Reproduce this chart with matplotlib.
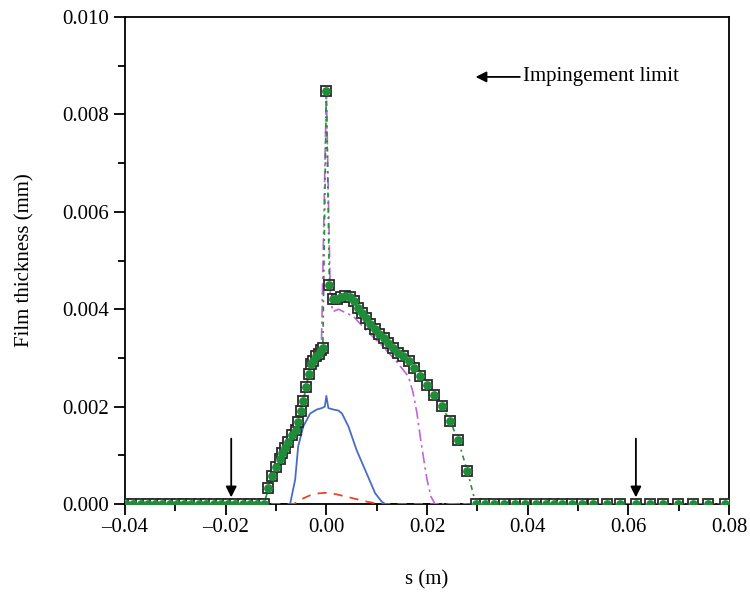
import matplotlib
matplotlib.use("Agg")
import matplotlib.pyplot as plt
from matplotlib.ticker import MultipleLocator, FuncFormatter

plt.rcParams['font.family'] = ['Liberation Serif', 'DejaVu Serif']

# film thickness along s, symbols (square + green circle) series
s_sym = [-0.0398, -0.0384, -0.0369, -0.0355, -0.0340, -0.0326, -0.0311, -0.0297,
         -0.0282, -0.0268, -0.0253, -0.0239, -0.0224, -0.0210, -0.0195, -0.0181,
         -0.0166, -0.0152, -0.0137, -0.0124,
         -0.0115, -0.0107, -0.0100, -0.0093, -0.0088, -0.0082, -0.0076, -0.0069,
         -0.0061, -0.0056, -0.0051, -0.0046, -0.0040, -0.0035, -0.0031, -0.0026,
         -0.0021, -0.0015, -0.0010, -0.0007, 0.0000, 0.0006,
         0.0014, 0.0022, 0.0030, 0.0038, 0.0046, 0.0054, 0.0062, 0.0070, 0.0078,
         0.0087, 0.0096, 0.0105, 0.0114, 0.0123, 0.0133, 0.0143, 0.0153, 0.0164,
         0.0175, 0.0187, 0.0200, 0.0214, 0.0229, 0.0246, 0.0262, 0.0280,
         0.0297, 0.0315, 0.0334, 0.0353, 0.0374, 0.0395, 0.0416, 0.0436, 0.0452,
         0.0468, 0.0488, 0.0508, 0.0530, 0.0558, 0.0584, 0.0615, 0.0643, 0.0669,
         0.0699, 0.0729, 0.0758, 0.0792]
h_sym = [0.0] * 20 + [
         0.00032, 0.00058, 0.00077, 0.00092, 0.00104, 0.00116, 0.00127, 0.00142,
         0.00153, 0.00169, 0.00190, 0.00212, 0.00240, 0.00268, 0.00287, 0.00294,
         0.00304, 0.00308, 0.00316, 0.00320, 0.00848, 0.00450,
         0.00420, 0.00422, 0.00426, 0.00428, 0.00425, 0.00417, 0.00403, 0.00392, 0.00381,
         0.00370, 0.00360, 0.00350, 0.00340, 0.00330, 0.00320, 0.00311, 0.00303, 0.00293,
         0.00280, 0.00263, 0.00244, 0.00224, 0.00201, 0.00170, 0.00131, 0.00068] + [0.0] * 22

# dash-dot magenta series
s_mag = [-0.040, -0.0125, -0.0115, -0.0100, -0.0088, -0.0076, -0.0061, -0.0051,
         -0.0040, -0.0031, -0.0021, -0.0010, 0.0000, 0.0008, 0.0013, 0.0024, 0.0040,
         0.0054, 0.0080, 0.0113, 0.0140, 0.0163, 0.0172, 0.0180, 0.0187, 0.0193,
         0.0200, 0.0208, 0.0216, 0.080]
h_mag = [0.0, 0.0, 0.00030, 0.00077, 0.00104, 0.00127, 0.00153, 0.00190,
         0.00240, 0.00287, 0.00304, 0.00316, 0.00850, 0.00420, 0.00395, 0.00400, 0.00392,
         0.00385, 0.00356, 0.00323, 0.00292, 0.00262, 0.00230, 0.00187, 0.00135, 0.00095,
         0.00050, 0.00015, 0.0, 0.0]

# solid blue series
s_blue = [-0.040, -0.0072, -0.0062, -0.0056, -0.0046, -0.0032, -0.0019, -0.0009,
          -0.0003, 0.0000, 0.0004, 0.0014, 0.0024, 0.0031, 0.0044, 0.0060, 0.0080,
          0.0097, 0.0110, 0.0117, 0.080]
h_blue = [0.0, 0.0, 0.00050, 0.00118, 0.00159, 0.00186, 0.00194, 0.00197,
          0.00200, 0.00222, 0.00197, 0.00194, 0.00192, 0.00186, 0.00159, 0.00111, 0.00063,
          0.00022, 0.00005, 0.0, 0.0]

# dashed red series
s_red = [-0.040, -0.0065, -0.0045, -0.0030, -0.0015, 0.0000, 0.0020, 0.0040,
         0.0060, 0.0080, 0.0105, 0.080]
h_red = [0.0, 0.0, 0.00012, 0.00019, 0.00022, 0.00023, 0.00020, 0.00015,
         0.00010, 0.00005, 0.0, 0.0]

fig = plt.figure(figsize=(7.5, 5.95), dpi=100)
ax = fig.add_axes([0.1667, 0.1529, 0.8053, 0.8185])

ax.plot(s_blue, h_blue, color='#4a6cc8', lw=1.3, zorder=2)
ax.plot(s_red, h_red, color='#e8452c', lw=1.3, dashes=(5, 4), zorder=3)
ax.plot(s_mag, h_mag, color='#c064d8', lw=1.2, dashes=(7, 2.5, 1.5, 2.5), zorder=4)
ax.plot(s_sym, h_sym, color='#25913a', lw=1.2, dashes=(1.2, 2.5, 3, 2.5), zorder=5)
ax.plot(s_sym, h_sym, ls='none', marker='s', ms=7.3, mfc='white', mec='#2a2a2a',
        mew=1.3, zorder=6)
ax.plot(s_sym, h_sym, ls='none', marker='o', ms=5.3, mfc='#1e8c38', mec='#1e8c38',
        zorder=7)

# impingement limit arrows
arrow = dict(arrowstyle='-|>', color='black', lw=1.3, mutation_scale=16)
ax.annotate('', xy=(-0.0189, 0.00008), xytext=(-0.0189, 0.0014), arrowprops=arrow)
ax.annotate('', xy=(0.0615, 0.00008), xytext=(0.0615, 0.0014), arrowprops=arrow)
ax.annotate('', xy=(0.0291, 0.00877), xytext=(0.0390, 0.00877), arrowprops=arrow)
ax.text(0.0390, 0.00877, 'Impingement limit', fontsize=15, va='center', ha='left')

ax.set_xlim(-0.04, 0.08)
ax.set_ylim(0.0, 0.010)
ax.xaxis.set_major_locator(MultipleLocator(0.02))
ax.xaxis.set_minor_locator(MultipleLocator(0.01))
ax.yaxis.set_major_locator(MultipleLocator(0.002))
ax.yaxis.set_minor_locator(MultipleLocator(0.001))
ax.xaxis.set_major_formatter(FuncFormatter(lambda v, p: f"{v:.2f}".replace('-', '\u2013')))
ax.yaxis.set_major_formatter(FuncFormatter(lambda v, p: f"{v:.3f}"))
ax.tick_params(which='major', direction='out', length=8, width=1.3, labelsize=15)
ax.tick_params(axis='x', which='major', pad=2)
ax.tick_params(which='minor', direction='out', length=5, width=1.3)
ax.tick_params(top=False, right=False, which='both')
for sp in ax.spines.values():
    sp.set_linewidth(1.3)

ax.set_xlabel('s (m)', fontsize=15, labelpad=24)
ax.set_ylabel('Film thickness (mm)', fontsize=15, labelpad=20)

fig.savefig('out.png', dpi=100)
